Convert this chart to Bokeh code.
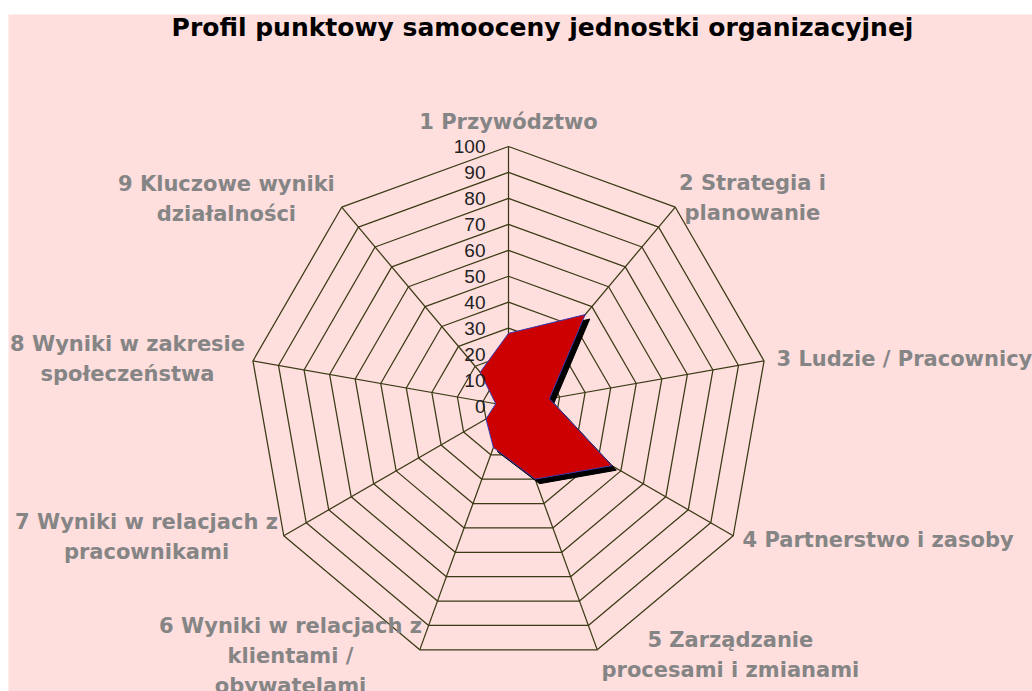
import numpy as np
from bokeh.plotting import figure
from bokeh.models import Range1d, ColumnDataSource, Spacer
from bokeh.layouts import column, row
from bokeh.core.properties import value
from bokeh.embed import file_html
from bokeh.resources import INLINE

# ---- data ----
title_text = "Profil punktowy samooceny jednostki organizacyjnej"
categories = [
    "1 Przywództwo",
    "2 Strategia i\nplanowanie",
    "3 Ludzie / Pracownicy",
    "4 Partnerstwo i zasoby",
    "5 Zarządzanie\nprocesami i zmianami",
    "6 Wyniki w relacjach z\nklientami /\nobywatelami",
    "7 Wyniki w relacjach z\npracownikami",
    "8 Wyniki w zakresie\nspołeczeństwa",
    "9 Kluczowe wyniki\ndziałalności",
]
scores = [28, 46, 16, 46, 30, 17, 10, 5, 17]
ticks = [0, 10, 20, 30, 40, 50, 60, 70, 80, 90, 100]
tick_labels = ["0", "10", "20", "30", "40", "50", "60", "70", "80", "90", "100"]

# ---- layout (pixels) ----
W, H = 1024, 677
PX = 2.595            # pixels per score unit
CX, CY = 500, 391.5   # centre inside figure, pixels
FONT = "Liberation Sans"
LFONT = "DejaVu Sans"
BG = "#FFDEDE"
GRID = "#3a3a14"

# label anchors in score units (x, y) and alignment
label_pos = [
    (0, 109.6, "center"), (94.0, 80.0, "center"), (103.3, 18.3, "left"),
    (90.2, -51.8, "left"), (85.5, -96.1, "center"), (-84.0, -96.5, "center"),
    (-139.5, -50.3, "center"), (-146.8, 18.3, "center"), (-108.7, 79.6, "center"),
]

n = len(categories)
theta = np.arange(n) * 2 * np.pi / n
sx, sy = np.sin(theta), np.cos(theta)

p = figure(width=W, height=H, output_backend="svg", toolbar_location=None,
           x_range=Range1d(-CX / PX, (W - CX) / PX),
           y_range=Range1d(-(H - CY) / PX, CY / PX),
           min_border=0, background_fill_color=BG, border_fill_color=BG,
           outline_line_color=None)
p.axis.visible = False
p.grid.visible = False

# rings
rx, ry = [], []
for t in ticks[1:]:
    rx.append(list(np.append(t * sx, t * sx[0])))
    ry.append(list(np.append(t * sy, t * sy[0])))
p.multi_line(rx, ry, line_color=GRID, line_width=1.25)
# spokes
p.multi_line([[0, 100 * a] for a in sx], [[0, 100 * b] for b in sy],
             line_color=GRID, line_width=1.25)

# series
vals = np.array(scores, dtype=float)
px_ = vals * sx
py_ = vals * sy
off = 4.5 / PX
p.patch(px_ + off, py_ - off, fill_color="black", line_color="black", line_width=1)
p.patch(px_, py_, fill_color="#CC0000", line_color="#3a3ab0", line_width=1)

# tick labels
p.text(x=[0] * len(ticks), y=ticks, text=tick_labels, x_offset=-23,
       text_align="right", text_baseline="middle",
       text_font=value(FONT), text_font_size="19px", text_color="#222222")

# category labels
src = ColumnDataSource(dict(
    x=[a[0] for a in label_pos], y=[a[1] for a in label_pos],
    t=categories, al=[a[2] for a in label_pos]))
p.text(x="x", y="y", text="t", source=src, text_align="al",
       text_baseline="middle", text_font=value(LFONT), text_font_size="21px",
       text_font_style="bold", text_color="#858585", text_line_height=1.25)

# title
p.text(x=[13.1], y=[145.9], text=[title_text], text_align="center",
       text_baseline="middle", text_font=value(LFONT), text_font_size="25px",
       text_font_style="bold", text_color="black")

layout = column(Spacer(height=14, width=W + 8),
                row(Spacer(width=8, height=H), p))
open("out.html", "w").write(file_html(layout, INLINE))
